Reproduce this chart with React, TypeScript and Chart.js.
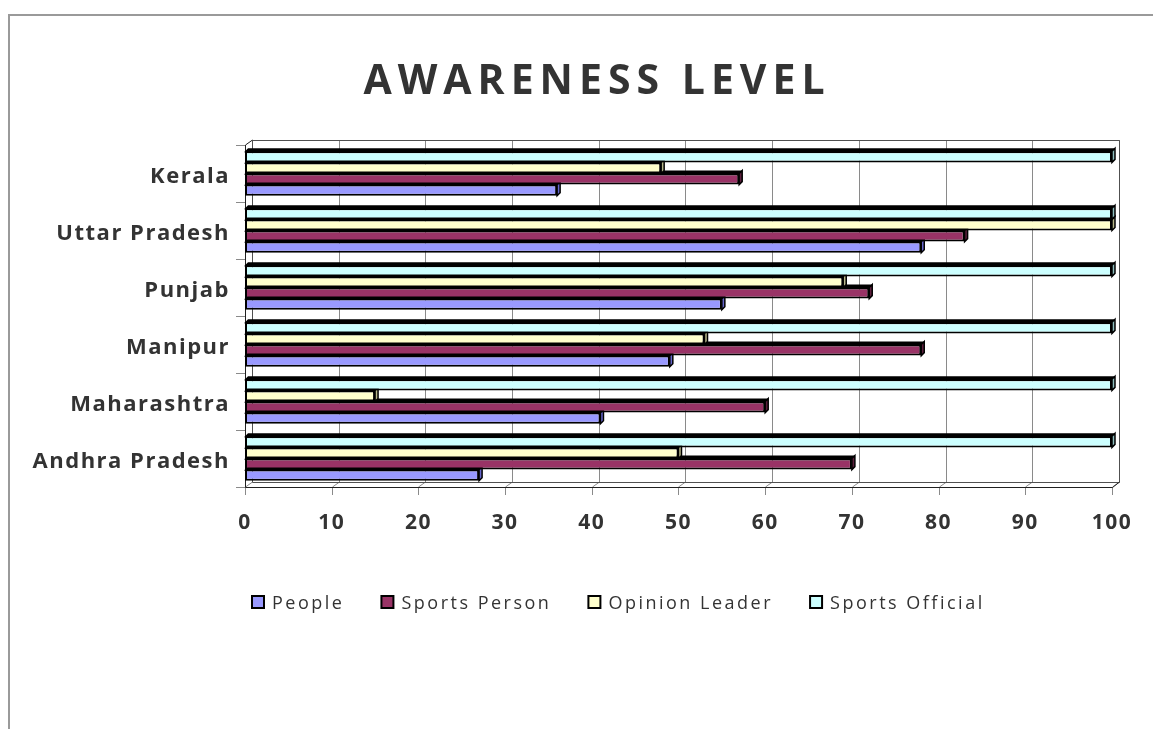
import { useEffect, useRef } from 'react';
import { Chart, registerables } from 'chart.js';

Chart.register(...registerables);

// ---- data (top to bottom as in the picture) ----
const categories = ['Kerala', 'Uttar Pradesh', 'Punjab', 'Manipur', 'Maharashtra', 'Andhra Pradesh'];
const people = [36, 78, 55, 49, 41, 27];
const sportsPerson = [57, 83, 72, 78, 60, 70];
const opinionLeader = [48, 100, 69, 53, 15, 50];
const sportsOfficial = [100, 100, 100, 100, 100, 100];
const xTickMin = 0;
const xTickMax = 100;
const xTickStep = 10;
const titleText = 'AWARENESS LEVEL';

const seriesNames = ['People', 'Sports Person', 'Opinion Leader', 'Sports Official'];
const seriesColors = ['#9999FF', '#993366', '#FFFFCC', '#CCFFFF'];
const seriesSideColors = ['#6666CC', '#5C1F3D', '#B8B88A', '#8FBFBF'];

const W = 1153;
const H = 729;
const DX = 7; // back wall offset
const DY = 5;
const BAR_DEPTH = 3;

const framePlugin = {
  id: 'frame3d',
  beforeDraw(chart: any) {
    const ctx = chart.ctx;
    ctx.letterSpacing = '1.5px';
    ctx.save();
    ctx.strokeStyle = '#9a9a9a';
    ctx.lineWidth = 2;
    ctx.beginPath();
    ctx.moveTo(9, H);
    ctx.lineTo(9, 15);
    ctx.lineTo(W, 15);
    ctx.stroke();
    ctx.restore();
  },
  beforeDatasetsDraw(chart: any) {
    const ctx = chart.ctx;
    const a = chart.chartArea;
    const xs = chart.scales.x;
    ctx.save();
    ctx.lineWidth = 1;
    // back wall gridlines + floor diagonals + ticks
    ctx.strokeStyle = '#8a8a8a';
    ctx.beginPath();
    xs.ticks.forEach((t: any) => {
      const xf = Math.round(xs.getPixelForValue(t.value)) + 0.5;
      const xb = xf + DX;
      ctx.moveTo(xb, a.top - DY);
      ctx.lineTo(xb, a.bottom - DY);
      ctx.lineTo(xf, a.bottom);
      ctx.lineTo(xf, a.bottom + 8);
    });
    ctx.stroke();
    // wall edges
    ctx.strokeStyle = '#505050';
    ctx.beginPath();
    ctx.moveTo(Math.round(a.left) + DX + 0.5, a.bottom - DY + 0.5);
    ctx.lineTo(Math.round(a.left) + DX + 0.5, a.top - DY + 0.5);
    ctx.lineTo(Math.round(a.right) + DX + 0.5, a.top - DY + 0.5);
    ctx.lineTo(Math.round(a.right) + DX + 0.5, a.bottom - DY + 0.5);
    ctx.lineTo(Math.round(a.left) + DX + 0.5, a.bottom - DY + 0.5);
    ctx.stroke();
    // front axes
    ctx.strokeStyle = '#202020';
    ctx.beginPath();
    ctx.moveTo(Math.round(a.left) + 0.5, a.top);
    ctx.lineTo(Math.round(a.left) + DX + 0.5, a.top - DY);
    ctx.moveTo(Math.round(a.left) + 0.5, a.top);
    ctx.lineTo(Math.round(a.left) + 0.5, Math.round(a.bottom) + 0.5);
    ctx.lineTo(Math.round(a.right) + 0.5, Math.round(a.bottom) + 0.5);
    ctx.lineTo(Math.round(a.right) + DX + 0.5, a.bottom - DY);
    ctx.stroke();
    // category tick marks
    ctx.strokeStyle = '#8a8a8a';
    ctx.beginPath();
    const n = categories.length;
    for (let i = 0; i <= n; i++) {
      const y = Math.round(a.top + (i * (a.bottom - a.top)) / n) + 0.5;
      ctx.moveTo(a.left - 9, y);
      ctx.lineTo(a.left, y);
    }
    ctx.stroke();

    // 3D faces of the bars (top + right side), drawn under the fronts
    const d = BAR_DEPTH;
    for (let di = chart.data.datasets.length - 1; di >= 0; di--) {
      const meta = chart.getDatasetMeta(di);
      const side = (chart.data.datasets[di] as any).sideColor;
      meta.data.forEach((el: any) => {
        const p = el.getProps(['x', 'y', 'base', 'height'], true);
        const top = p.y - p.height / 2;
        const bottom = p.y + p.height / 2;
        const left = Math.min(p.x, p.base);
        const right = Math.max(p.x, p.base);
        ctx.fillStyle = '#000';
        ctx.beginPath();
        ctx.moveTo(left - 1, top + 1);
        ctx.lineTo(left + d, top - d);
        ctx.lineTo(right + d, top - d);
        ctx.lineTo(right, top + 1);
        ctx.closePath();
        ctx.fill();
        ctx.fillStyle = side;
        ctx.strokeStyle = '#000';
        ctx.lineWidth = 1.5;
        ctx.beginPath();
        ctx.moveTo(right, top);
        ctx.lineTo(right + d, top - d);
        ctx.lineTo(right + d, bottom - d);
        ctx.lineTo(right, bottom);
        ctx.closePath();
        ctx.fill();
        ctx.stroke();
      });
    }
    ctx.restore();
  },
  afterDraw(chart: any) {
    const ctx = chart.ctx;
    // title
    ctx.save();
    ctx.letterSpacing = '6px';
    ctx.font = 'bold 41px "Open Sans"';
    ctx.fillStyle = '#333333';
    ctx.textAlign = 'center';
    ctx.textBaseline = 'alphabetic';
    ctx.fillText(titleText, 597, 94);
    ctx.restore();

    // legend (People, Sports Person, Opinion Leader, Sports Official)
    ctx.save();
    ctx.letterSpacing = '2.5px';
    ctx.font = '18px "Open Sans"';
    ctx.textAlign = 'left';
    ctx.textBaseline = 'alphabetic';
    let x = 252;
    const ds = chart.data.datasets.slice().reverse();
    ds.forEach((d: any) => {
      ctx.fillStyle = d.backgroundColor;
      ctx.fillRect(x, 596, 12, 12);
      ctx.strokeStyle = '#000';
      ctx.lineWidth = 2;
      ctx.strokeRect(x, 596, 12, 12);
      ctx.fillStyle = '#333333';
      ctx.fillText(d.label, x + 20, 609);
      x = x + 20 + ctx.measureText(d.label).width + 37;
    });
    ctx.restore();
  },
};

export default function App() {
  const ref = useRef<HTMLCanvasElement | null>(null);

  useEffect(() => {
    document.body.style.margin = '0';
    const canvas = ref.current!;
    const order = [3, 2, 1, 0];
    const values = [people, sportsPerson, opinionLeader, sportsOfficial];
    const chart = new Chart(canvas, {
      type: 'bar',
      data: {
        labels: categories,
        datasets: order.map((i) => ({
          label: seriesNames[i],
          data: values[i],
          backgroundColor: seriesColors[i],
          sideColor: seriesSideColors[i],
          borderColor: '#000000',
          borderWidth: 2,
          borderSkipped: false,
          categoryPercentage: 0.78,
          barPercentage: 1,
        })) as any,
      },
      options: {
        indexAxis: 'y',
        responsive: false,
        animation: false,
        devicePixelRatio: 1,
        layout: { padding: { top: 145, right: 32, left: 0, bottom: 0 } },
        plugins: {
          legend: { display: false },
          title: { display: false },
          tooltip: { enabled: false },
        },
        scales: {
          x: {
            min: xTickMin,
            max: xTickMax,
            ticks: {
              stepSize: xTickStep,
              color: '#333333',
              font: { family: '"Open Sans"', weight: 'bold', size: 21 },
              padding: 23,
              maxRotation: 0,
              autoSkip: false,
            },
            grid: { display: false, drawTicks: false },
            border: { display: false },
            afterFit: (s: any) => {
              s.height = 242;
            },
          },
          y: {
            ticks: {
              color: '#333333',
              font: { family: '"Open Sans"', weight: 'bold', size: 22 },
              padding: 15,
              labelOffset: 3,
            },
            grid: { display: false, drawTicks: false },
            border: { display: false },
            afterFit: (s: any) => {
              s.width = 245;
            },
          },
        },
      } as any,
      plugins: [framePlugin],
    });
    return () => chart.destroy();
  }, []);

  return (
    <div style={{ position: 'absolute', left: 0, top: 0, width: W, height: H, background: '#fff' }}>
      <canvas ref={ref} width={W} height={H} style={{ width: W, height: H, display: 'block' }} />
    </div>
  );
}
